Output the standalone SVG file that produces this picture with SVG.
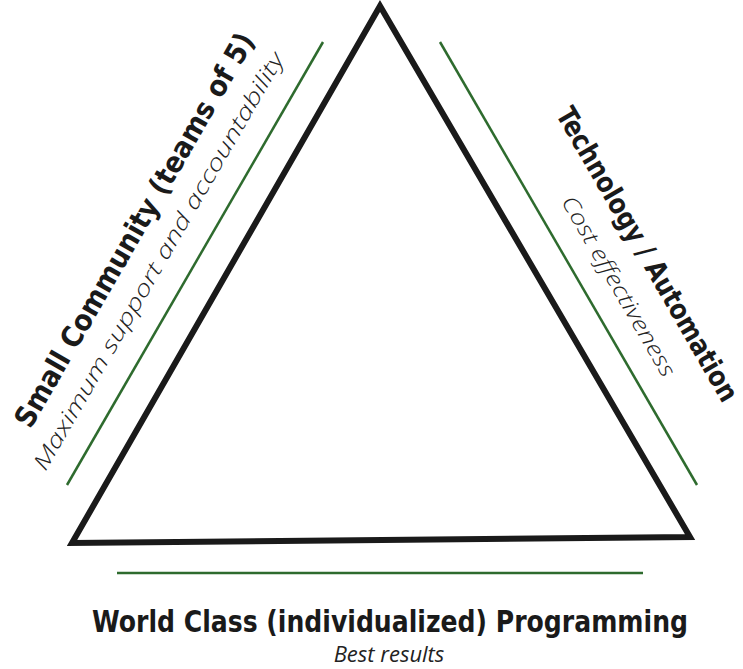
<svg xmlns="http://www.w3.org/2000/svg" width="743" height="669" viewBox="0 0 743 669">
<style>
.g{stroke:#2e6b2e;stroke-width:2.5;fill:none}
.b{font-family:"DejaVu Sans Condensed","DejaVu Sans",sans-serif;font-weight:bold;font-stretch:condensed;fill:#1a1a1a;text-anchor:middle}
.i{font-family:"Open Sans",sans-serif;font-style:italic;font-weight:300;fill:#222;text-anchor:middle}
</style>
<rect width="743" height="669" fill="#fff"/>
<g id="triangle"><polygon points="380,6 72,543 690,537" fill="none" stroke="#1a1a1a" stroke-width="6" stroke-linejoin="miter"/></g>
<g id="connectors">
<line class="g" x1="67" y1="485" x2="323" y2="42"/>
<line class="g" x1="440" y1="42" x2="697" y2="485"/>
<line class="g" x1="117" y1="573" x2="643" y2="573"/>
</g>
<g id="left">
<text class="b" font-size="29" textLength="450" lengthAdjust="spacingAndGlyphs" transform="translate(143,235) rotate(-60)">Small Community (teams of 5)</text>
<text class="i" font-size="22" textLength="478" lengthAdjust="spacingAndGlyphs" transform="translate(165,265) rotate(-60)">Maximum support and accountability</text>
</g>
<g id="right">
<text class="b" font-size="28" textLength="335" lengthAdjust="spacingAndGlyphs" transform="translate(639,259) rotate(60)">Technology / Automation</text>
<text class="i" font-size="22" textLength="205" lengthAdjust="spacingAndGlyphs" transform="translate(612,290) rotate(60)">Cost effectiveness</text>
</g>
<g id="bottom">
<text class="b" font-size="30" x="390" y="632" textLength="596" lengthAdjust="spacingAndGlyphs">World Class (individualized) Programming</text>
<text class="i" font-size="22" x="389" y="662" style="font-weight:400">Best results</text>
</g>
</svg>
